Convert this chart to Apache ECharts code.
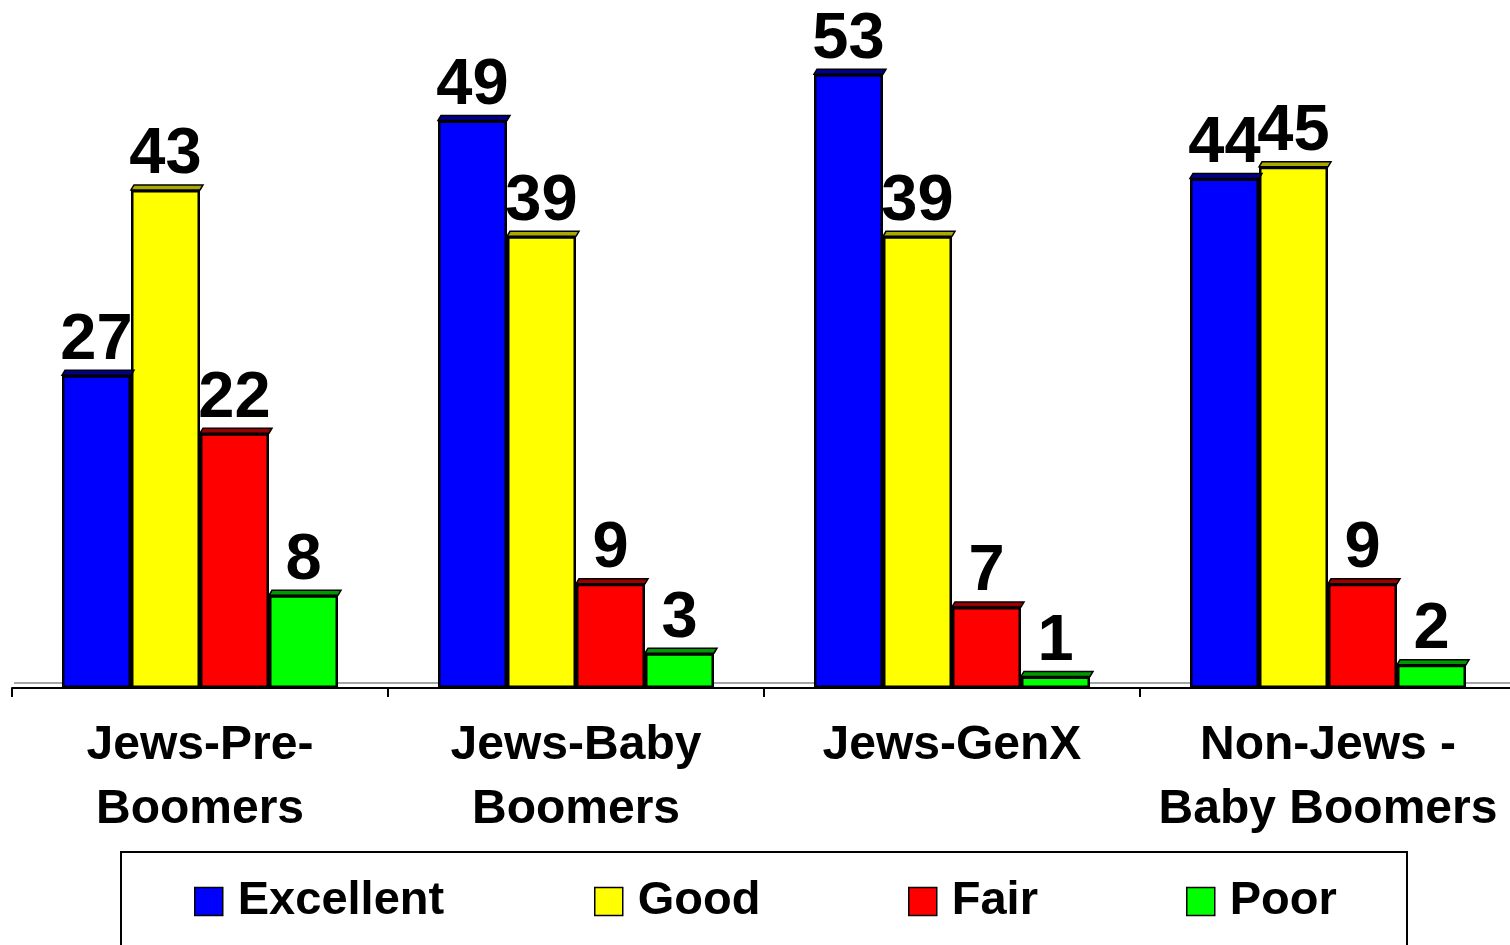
<!DOCTYPE html>
<html>
<head>
<meta charset="utf-8">
<script src="https://cdn.jsdelivr.net/npm/echarts@6/dist/echarts.min.js"></script>
<style>
  html, body { margin: 0; padding: 0; background: #fff; }
  #chart01 { width: 1510px; height: 945px; }
</style>
</head>
<body>
<div id="chart01"></div>
<script>
// categories and values
var categories = ["Jews-Pre-\nBoomers", "Jews-Baby\nBoomers", "Jews-GenX", "Non-Jews -\nBaby Boomers"];
var seriesNames = ["Excellent", "Good", "Fair", "Poor"];
var excellent = [27, 49, 53, 44];
var good = [43, 39, 39, 45];
var fair = [22, 9, 7, 9];
var poor = [8, 3, 1, 2];

var colors = ["#0000FF", "#FFFF00", "#FF0000", "#00FF00"];
var topColors = ["#00008B", "#A8A800", "#9A0000", "#009A00"];
var allValues = [excellent, good, fair, poor];
var barW = 69;

var myChart01 = echarts.init(document.getElementById('chart01'));

var series = [];
seriesNames.forEach(function (name, s) {
    series.push({
        name: name,
        type: "bar",
        barWidth: barW,
        barGap: "0%",
        data: allValues[s],
        itemStyle: { color: colors[s], borderColor: "#000", borderWidth: 2.5 },
        label: {
            show: true,
            position: "top",
            distance: 2,
            fontFamily: "Liberation Sans, Arial",
            fontWeight: "bold",
            fontSize: 65,
            color: "#000"
        },
        z: 2
    });
});

// thin 3D top face on every bar
var faceData = [];
allValues.forEach(function (vals, s) {
    vals.forEach(function (v, i) { faceData.push([i, v, s]); });
});
series.push({
    type: "custom",
    silent: true,
    z: 3,
    data: faceData,
    renderItem: function (params, api) {
        var i = api.value(0), v = api.value(1), s = api.value(2);
        var p = api.coord([i, v]);
        var x = p[0] - 2 * barW + s * barW;
        var y = p[1];
        return {
            type: "polygon",
            shape: { points: [[x, y], [x + 3, y - 5], [x + barW + 3, y - 5], [x + barW, y]] },
            style: { fill: topColors[s], stroke: "#000", lineWidth: 1.5 }
        };
    }
});

var legends = [];
var legendLeft = [189, 589, 903, 1181];
seriesNames.forEach(function (name, s) {
    legends.push({
        data: [name],
        left: legendLeft[s],
        top: 873,
        itemWidth: 28,
        itemHeight: 28,
        icon: "rect",
        itemStyle: { borderColor: "#000", borderWidth: 1.5 },
        textStyle: {
            fontFamily: "Liberation Sans, Arial",
            fontWeight: "bold",
            fontSize: 47,
            color: "#000",
            padding: [0, 0, 0, 10]
        },
        selectedMode: false
    });
});

var option = {
    animation: false,
    grid: { left: 12, right: -6, top: 51, bottom: 257, containLabel: false, outerBoundsMode: "none" },
    legend: legends,
    graphic: [{
        type: "rect",
        shape: { x: 121, y: 852, width: 1286, height: 110 },
        style: { fill: "none", stroke: "#000", lineWidth: 2 }
    }, {
        type: "line",
        shape: { x1: 14, y1: 683, x2: 1510, y2: 683 },
        style: { stroke: "#888", lineWidth: 1.5 },
        z: 1
    }],
    xAxis: {
        type: "category",
        data: categories,
        axisLine: { lineStyle: { color: "#000", width: 2 } },
        axisTick: { show: true, length: 9, lineStyle: { color: "#000", width: 2 } },
        axisLabel: {
            margin: 26,
            fontFamily: "Liberation Sans, Arial",
            fontWeight: "bold",
            fontSize: 48,
            lineHeight: 64,
            color: "#000",
            interval: 0
        }
    },
    yAxis: {
        type: "value",
        min: 0,
        max: 55,
        show: false,
        splitLine: { show: false }
    },
    series: series
};
myChart01.setOption(option);
</script>
</body>
</html>
